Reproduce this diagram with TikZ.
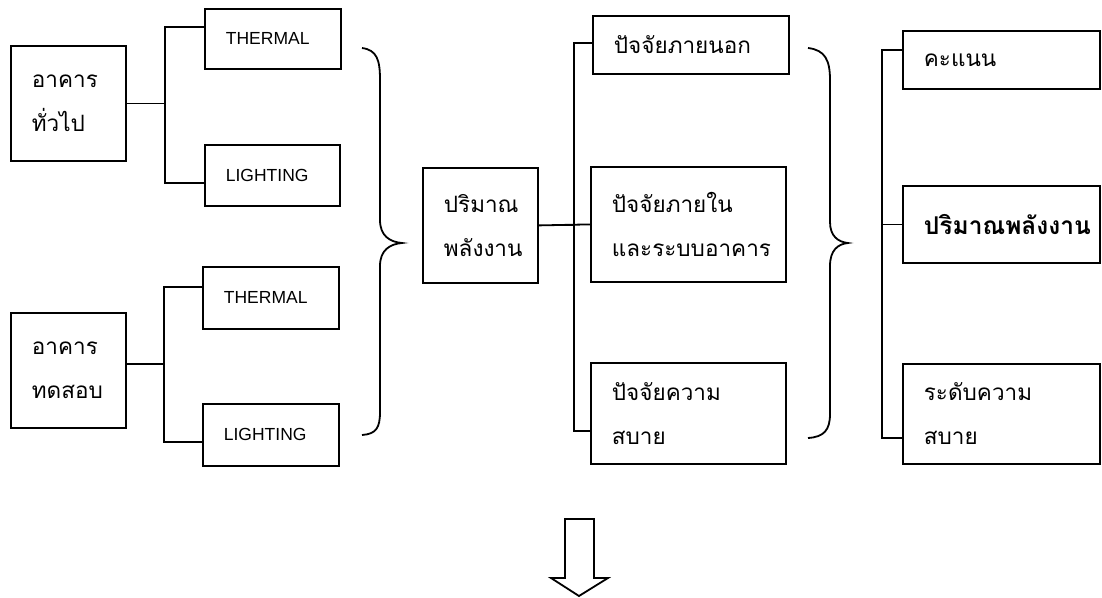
\documentclass[tikz,border=0pt]{standalone}
\usepackage{fontspec}
\setmainfont{Liberation Sans}
\newfontfamily\thaifont[Script=Thai]{Loma}
\begin{document}
\begin{tikzpicture}[x=1pt, y=-1pt, line width=1.8pt,
  box/.style={draw, anchor=north west, align=left, inner xsep=21pt, inner ysep=0pt,
    font=\thaifont\fontsize{22.5}{44}\selectfont},
  eng/.style={box, font=\fontsize{17.5}{20}\selectfont}]
  \useasboundingbox (0,0) rectangle (1102,597);
  % buildings and their loads
  \node[box, text width=73pt, minimum height=115pt] (gen) at (10,45) {อาคาร\\ทั่วไป};
  \node[box, text width=73pt, minimum height=115pt] (test) at (10,312) {อาคาร\\ทดสอบ};
  \node[eng, text width=94pt, minimum height=60pt] (th1) at (204,8) {THERMAL};
  \node[eng, text width=93pt, minimum height=61pt] (li1) at (204,144) {LIGHTING};
  \node[eng, text width=94pt, minimum height=62pt] (th2) at (202,266) {THERMAL};
  \node[eng, text width=94pt, minimum height=62pt] (li2) at (202,403) {LIGHTING};
  \draw (gen.east) -- ++(38,0) |- ([yshift=12pt]th1.west);
  \draw (gen.east) -- ++(38,0) |- ([yshift=-7.5pt]li1.west);
  \draw ([yshift=6.5pt]test.east) -- ++(37,0) |- ([yshift=11pt]th2.west);
  \draw ([yshift=6.5pt]test.east) -- ++(37,0) |- ([yshift=-7pt]li2.west);
  % first brace
  \draw (362,48) .. controls (377,50) and (380,60) .. (380,80) -- (380,220)
    .. controls (380,236) and (390,242) .. (402,243)
    .. controls (390,244) and (380,250) .. (380,266) -- (380,412)
    .. controls (380,428) and (376,434) .. (362,435);
  % energy and factors
  \node[box, text width=73pt, minimum height=115pt] (energy) at (422,167) {ปริมาณ\\พลังงาน};
  \node[box, text width=154pt, minimum height=58pt] (ext) at (592,15) {ปัจจัยภายนอก};
  \node[box, text width=153pt, minimum height=115pt] (int) at (590,166) {ปัจจัยภายใน\\และระบบอาคาร};
  \node[box, text width=153pt, minimum height=101pt] (comf) at (590,362) {ปัจจัยความ\\สบาย};
  \draw (energy.east) -- ++(35,0) |- ([yshift=2pt]ext.west);
  \draw (energy.east) -- (int.west);
  \draw (energy.east) -- ++(35,0) |- ([yshift=-17.5pt]comf.west);
  % second brace
  \draw (808,48) .. controls (825,50) and (830,60) .. (830,80) -- (830,222)
    .. controls (830,236) and (838,242) .. (848,243)
    .. controls (838,244) and (830,250) .. (830,266) -- (830,414)
    .. controls (830,430) and (824,437) .. (808,438);
  % results
  \node[box, text width=155pt, minimum height=58pt] (score) at (902,30) {คะแนน};
  \node[box, text width=155pt, minimum height=77pt] (renergy) at (902,185)
    {\fontsize{24.5}{30}\selectfont\bfseries ปริมาณพลังงาน};
  \node[box, text width=155pt, minimum height=100pt] (level) at (902,363) {ระดับความ\\สบาย};
  \draw ([yshift=10pt]score.west) -- ++(-20,0) |- ([yshift=-24pt]level.west);
  \draw (renergy.west) -- ++(-20,0);
  % down arrow
  \draw (565,519) -- (594,519) -- (594,578) -- (608,578) -- (579,596)
    -- (551,578) -- (565,578) -- cycle;
\end{tikzpicture}
\end{document}
